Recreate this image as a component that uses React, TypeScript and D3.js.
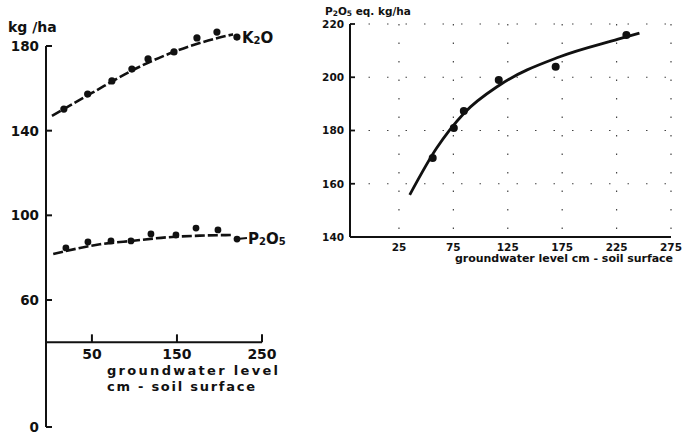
import React from "react";
import * as d3 from "d3";

// ---- Left panel data (kg/ha vs groundwater level) ----
const K2O_X = [17, 45, 73.5, 97, 116, 146.5, 173.5, 197, 220.5];
const K2O_Y = [150.2, 157.3, 163.5, 169.1, 173.9, 177.2, 183.8, 186.6, 184.2];
const K2O_FIT_X = [3, 50, 100, 150, 200, 216];
const K2O_FIT_Y = [147, 157.8, 169, 177.8, 184, 185.5];

const P2O5_X = [19.4, 45.3, 72.4, 95.9, 119.4, 148.8, 172.4, 198.2, 220.6];
const P2O5_Y = [84.6, 87.4, 87.9, 87.9, 91.2, 90.7, 94.0, 93.1, 88.8];
const P2O5_FIT_X = [4.5, 59.4, 98.6, 137.9, 177, 216];
const P2O5_FIT_Y = [81.7, 86.3, 88.0, 89.6, 90.4, 90.7];

const LEFT_Y_TICKS = [0, 60, 100, 140, 180];
const LEFT_X_TICKS = [50, 150, 250];

// ---- Right panel data (P2O5 eq. kg/ha) ----
const EQ_X = [56, 75.4, 84.6, 116.7, 169, 234];
const EQ_Y = [169.7, 180.9, 187.3, 199, 203.9, 215.9];
const EQ_FIT_X = [34.9, 59.5, 84.8, 117.6, 172.8, 226.4, 246];
const EQ_FIT_Y = [155.8, 173.3, 186.5, 197.1, 207.7, 214.3, 216.6];

const RIGHT_Y_TICKS = [140, 160, 180, 200, 220];
const RIGHT_X_TICKS = [25, 75, 125, 175, 225, 275];

const FONT = "'DejaVu Sans', 'Liberation Sans', Arial, sans-serif";
const INK = "#111";

export default function App() {
  // left scales
  const lx = d3.scaleLinear().domain([-4, 250]).range([46, 262]);
  const ly = d3.scaleLinear().domain([0, 180]).range([427, 46]);
  const leftAxisY = 40;

  // right scales
  const rx = d3.scaleLinear().domain([-20, 275]).range([350, 671]);
  const ry = d3.scaleLinear().domain([140, 220]).range([237, 24]);

  const leftLine = d3
    .line<[number, number]>()
    .x((d) => lx(d[0]))
    .y((d) => ly(d[1]))
    .curve(d3.curveMonotoneX);
  const rightLine = d3
    .line<[number, number]>()
    .x((d) => rx(d[0]))
    .y((d) => ry(d[1]))
    .curve(d3.curveMonotoneX);

  const k2oFit = K2O_FIT_X.map((x, i) => [x, K2O_FIT_Y[i]] as [number, number]);
  const p2o5Fit = P2O5_FIT_X.map((x, i) => [x, P2O5_FIT_Y[i]] as [number, number]);
  const eqFit = EQ_FIT_X.map((x, i) => [x, EQ_FIT_Y[i]] as [number, number]);

  const k2oLast = K2O_X.length - 1;
  const pLast = P2O5_X.length - 1;

  return (
    <svg
      width={683}
      height={444}
      style={{ position: "fixed", left: 0, top: 0, background: "#fff" }}
      fontFamily={FONT}
    >
      <rect x={0} y={0} width={683} height={444} fill="#fff" />

      {/* ================= LEFT PANEL ================= */}
      <text x={8} y={32} fontSize={14} fontWeight="bold" fill={INK}>
        kg /ha
      </text>
      {/* y axis */}
      <line x1={lx(-4)} x2={lx(-4)} y1={ly(180)} y2={ly(0)} stroke={INK} strokeWidth={2} />
      {LEFT_Y_TICKS.map((t) => (
        <g key={"ly" + t}>
          <line x1={lx(-4)} x2={lx(-4) + 6} y1={ly(t)} y2={ly(t)} stroke={INK} strokeWidth={2} />
          <text
            x={39}
            y={ly(t)}
            dy="0.36em"
            textAnchor="end"
            fontSize={13.5}
            fontWeight="bold"
            fill={INK}
          >
            {t}
          </text>
        </g>
      ))}
      {/* x axis */}
      <line
        x1={lx(-4)}
        x2={lx(250)}
        y1={ly(leftAxisY)}
        y2={ly(leftAxisY)}
        stroke={INK}
        strokeWidth={2}
      />
      {LEFT_X_TICKS.map((t) => (
        <g key={"lx" + t}>
          <line x1={lx(t)} x2={lx(t)} y1={ly(leftAxisY)} y2={ly(leftAxisY) - 8} stroke={INK} strokeWidth={2} />
          <text
            x={lx(t)}
            y={ly(leftAxisY) + 17}
            textAnchor="middle"
            fontSize={14}
            fontWeight="bold"
            fill={INK}
          >
            {t}
          </text>
        </g>
      ))}
      <text x={107} y={375} fontSize={13} fontWeight="bold" fill={INK} textLength={171} lengthAdjust="spacing">
        groundwater level
      </text>
      <text x={107} y={391} fontSize={13} fontWeight="bold" fill={INK} textLength={148} lengthAdjust="spacing">
        cm - soil surface
      </text>

      {/* K2O */}
      <path
        d={leftLine(k2oFit) || ""}
        fill="none"
        stroke={INK}
        strokeWidth={2.6}
        strokeDasharray="10,3"
      />
      {K2O_X.map((x, i) => (
        <circle key={"k" + i} cx={lx(x)} cy={ly(K2O_Y[i])} r={3.6} fill={INK} />
      ))}
      <text x={lx(K2O_X[k2oLast]) + 5} y={ly(K2O_Y[k2oLast]) + 6} fontSize={15} fontWeight="bold" fill={INK}>
        K
        <tspan fontSize={10} dy={1}>2</tspan>
        <tspan dy={-1}>O</tspan>
      </text>

      {/* P2O5 */}
      <path
        d={leftLine(p2o5Fit) || ""}
        fill="none"
        stroke={INK}
        strokeWidth={2.6}
        strokeDasharray="10,3"
      />
      {P2O5_X.map((x, i) => (
        <circle key={"p" + i} cx={lx(x)} cy={ly(P2O5_Y[i])} r={3.4} fill={INK} />
      ))}
      <line
        x1={lx(P2O5_X[pLast])}
        x2={lx(P2O5_X[pLast]) + 10}
        y1={ly(P2O5_Y[pLast])}
        y2={ly(P2O5_Y[pLast]) - 1}
        stroke={INK}
        strokeWidth={2}
      />
      <text x={lx(P2O5_X[pLast]) + 11} y={ly(P2O5_Y[pLast]) + 5} fontSize={15} fontWeight="bold" fill={INK}>
        P
        <tspan fontSize={10} dy={1}>2</tspan>
        <tspan dy={-1}>O</tspan>
        <tspan fontSize={10} dy={1}>5</tspan>
      </text>

      {/* ================= RIGHT PANEL ================= */}
      <text x={325} y={15} fontSize={10.5} fontWeight="bold" fill={INK}>
        P
        <tspan fontSize={7.5} dy={1}>2</tspan>
        <tspan dy={-1}>O</tspan>
        <tspan fontSize={7.5} dy={1}>5</tspan>
        <tspan dy={-1}> eq. kg/ha</tspan>
      </text>

      {/* dotted grid */}
      {RIGHT_X_TICKS.map((t) => (
        <line
          key={"gx" + t}
          x1={rx(t)}
          x2={rx(t)}
          y1={ry(220)}
          y2={ry(140)}
          stroke="#444"
          strokeWidth={1.2}
          strokeDasharray="1.5,17"
        />
      ))}
      {RIGHT_Y_TICKS.filter((t) => t > 140).map((t) => (
        <line
          key={"gy" + t}
          x1={rx(-20)}
          x2={rx(275)}
          y1={ry(t)}
          y2={ry(t)}
          stroke="#444"
          strokeWidth={1.2}
          strokeDasharray="1.5,17"
        />
      ))}

      {/* axes */}
      <line x1={rx(-20)} x2={rx(-20)} y1={ry(220)} y2={ry(140)} stroke={INK} strokeWidth={2} />
      <line x1={rx(-20)} x2={rx(275)} y1={ry(140)} y2={ry(140)} stroke={INK} strokeWidth={1.8} />
      {RIGHT_Y_TICKS.map((t) => (
        <g key={"ry" + t}>
          <line x1={rx(-20)} x2={rx(-20) + 5} y1={ry(t)} y2={ry(t)} stroke={INK} strokeWidth={1.8} />
          <text
            x={344}
            y={ry(t)}
            dy="0.36em"
            textAnchor="end"
            fontSize={10.5}
            fontWeight="bold"
            fill={INK}
          >
            {t}
          </text>
        </g>
      ))}
      {RIGHT_X_TICKS.map((t) => (
        <text
          key={"rx" + t}
          x={rx(t)}
          y={ry(140) + 14}
          textAnchor="middle"
          fontSize={10.5}
          fontWeight="bold"
          fill={INK}
        >
          {t}
        </text>
      ))}
      <text x={455} y={262} fontSize={11} fontWeight="bold" fill={INK} textLength={218} lengthAdjust="spacing">
        groundwater level cm - soil surface
      </text>

      {/* curve + points */}
      <path d={rightLine(eqFit) || ""} fill="none" stroke={INK} strokeWidth={2.8} />
      {EQ_X.map((x, i) => (
        <circle key={"e" + i} cx={rx(x)} cy={ry(EQ_Y[i])} r={4} fill={INK} />
      ))}
    </svg>
  );
}
